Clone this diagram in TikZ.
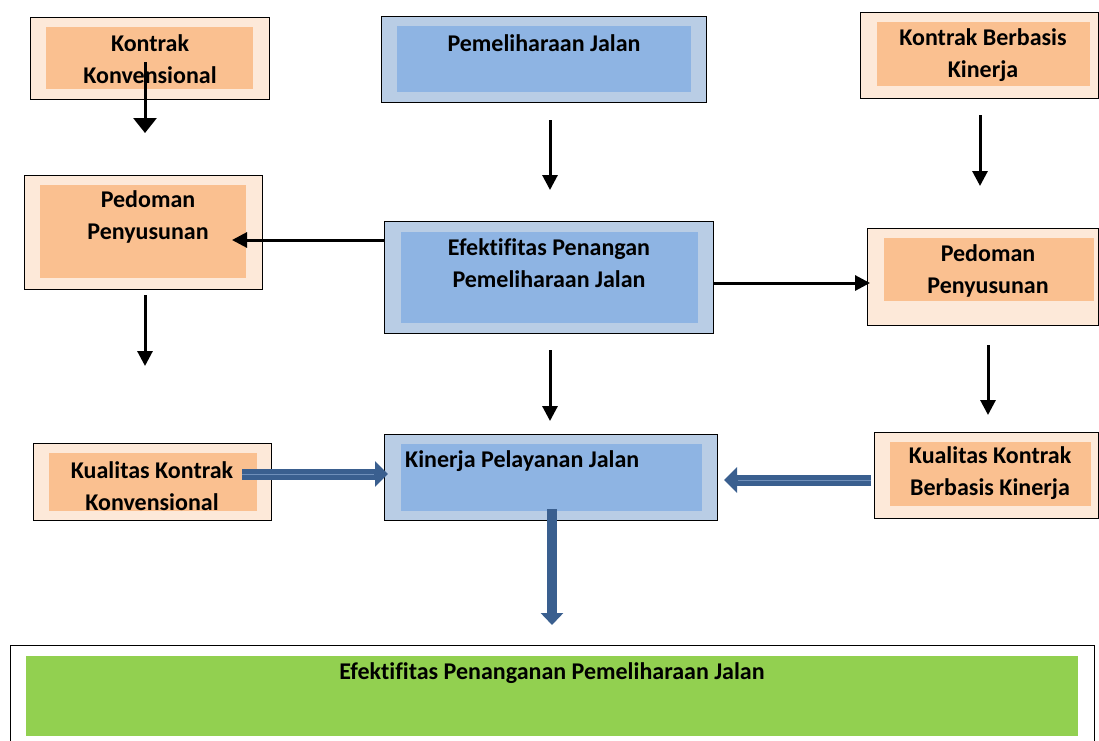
\documentclass[tikz,border=0pt]{standalone}
\usepackage{fontspec}
\setmainfont[Ligatures=NoCommon]{Carlito}
\usetikzlibrary{arrows.meta, positioning, calc}
\definecolor{peachlight}{HTML}{FDE9D9}
\definecolor{peach}{HTML}{FAC090}
\definecolor{bluelight}{HTML}{B9CDE5}
\definecolor{bluemid}{HTML}{8EB4E3}
\definecolor{arrowblue}{HTML}{3A5F8F}
\definecolor{arrowline}{HTML}{6F8FBA}
\definecolor{greenbox}{HTML}{92D050}
\newcommand{\boxfont}{\fontsize{24}{32}\selectfont\bfseries}

\begin{document}
\begin{tikzpicture}[x=1pt, y=-1pt,
    outerpeach/.style={draw=black, line width=1pt, fill=peachlight, inner sep=0pt},
    innerpeach/.style={fill=peach, inner sep=0pt},
    outerblue/.style={draw=black, line width=1pt, fill=bluelight, inner sep=0pt},
    innerblue/.style={fill=bluemid, inner sep=0pt},
    boxtext/.style={font=\boxfont, align=center, inner sep=0pt},
    thinarrow/.style={-{Triangle[width=15pt,length=15pt]}, line width=3pt, black},
    blockarrow/.style={-{Triangle[width=25pt,length=13pt]}, line width=11pt, arrowblue},
    blockline/.style={line width=1pt, arrowline}]
    \useasboundingbox (0,0) rectangle (1099,740);

    % Top row
    \node[outerpeach, minimum width=239, minimum height=82] (kkO) at (149.5,58) {};
    \node[innerpeach, minimum width=207, minimum height=62] (kkI) at (149.5,58) {};
    \node[boxtext] (kk) at (150,59) {Kontrak\\Konvensional};

    \node[outerblue, minimum width=325, minimum height=86] (pjO) at (543.5,59) {};
    \node[innerblue, minimum width=294, minimum height=66] (pjI) at (544,59) {};
    \node[boxtext] (pj) at (544,43) {Pemeliharaan Jalan};

    \node[outerpeach, minimum width=238, minimum height=86] (kbO) at (979,55) {};
    \node[innerpeach, minimum width=213, minimum height=64] (kbI) at (983.5,54) {};
    \node[boxtext] (kb) at (983,55) {Kontrak Berbasis\\Kinerja};

    % Middle row
    \node[outerpeach, minimum width=238, minimum height=114] (plO) at (143,232) {};
    \node[innerpeach, minimum width=206, minimum height=93] (plI) at (143,231.5) {};
    \node[boxtext] (pl) at (148,217) {Pedoman\\Penyusunan};

    \node[outerblue, minimum width=329, minimum height=112] (epO) at (548.5,277) {};
    \node[innerblue, minimum width=297, minimum height=91] (epI) at (549.5,277.5) {};
    \node[boxtext] (ep) at (549,263) {Efektifitas Penangan\\Pemeliharaan Jalan};

    \node[outerpeach, minimum width=231, minimum height=97] (prO) at (982.5,276.5) {};
    \node[innerpeach, minimum width=210, minimum height=63] (prI) at (989,269.5) {};
    \node[boxtext] (pr) at (988,271) {Pedoman\\Penyusunan};

    % Bottom row
    \node[outerpeach, minimum width=238, minimum height=77] (qkO) at (152,481.5) {};
    \node[innerpeach, minimum width=208, minimum height=58] (qkI) at (153,482) {};
    \node[boxtext] (qk) at (152,486) {Kualitas Kontrak\\Konvensional};

    \node[outerblue, minimum width=333, minimum height=86] (kpO) at (550.5,477) {};
    \node[innerblue, minimum width=301, minimum height=67] (kpI) at (551.5,477.5) {};
    \node[boxtext, anchor=west] (kp) at (405,461) {Kinerja Pelayanan Jalan};

    \node[outerpeach, minimum width=224, minimum height=86] (qbO) at (986,475) {};
    \node[innerpeach, minimum width=201, minimum height=64] (qbI) at (990.5,474) {};
    \node[boxtext] (qb) at (990,473.5) {Kualitas Kontrak\\Berbasis Kinerja};

    % Result
    \node[outerblue, fill=white, minimum width=1084, minimum height=110] (efO) at (552,700) {};
    \node[fill=greenbox, inner sep=0pt, minimum width=1052, minimum height=80] (efI) at (552,696) {};
    \node[boxtext] (ef) at (552,673) {Efektifitas Penanganan Pemeliharaan Jalan};

    % Thin arrows
    \coordinate (a1) at (145,62);   \coordinate (b1) at (145,133);
    \coordinate (a2) at (550,120);  \coordinate (b2) at (550,190);
    \coordinate (a3) at (980,115);  \coordinate (b3) at (980,186);
    \coordinate (a4) at (145,295);  \coordinate (b4) at (145,366);
    \coordinate (a5) at (550,350);  \coordinate (b5) at (550,421);
    \coordinate (a6) at (988,345);  \coordinate (b6) at (988,415);
    \coordinate (b7) at (232,240);
    \coordinate (b8) at (870,283);
    \draw[thinarrow, -{Triangle[width=23pt,length=15pt]}] (a1) -- (b1);
    \draw[thinarrow] (a2) -- (b2);
    \draw[thinarrow] (a3) -- (b3);
    \draw[thinarrow] (a4) -- (b4);
    \draw[thinarrow] (a5) -- (b5);
    \draw[thinarrow] (a6) -- (b6);
    \draw[thinarrow] (epO.west |- b7) -- (b7);
    \draw[thinarrow] (epO.east |- b8) -- (b8);

    % Block arrows
    \coordinate (c1) at (242,474);  \coordinate (d1) at (388,474);
    \coordinate (c2) at (871,480);  \coordinate (d2) at (724,480);
    \coordinate (c3) at (552,509);  \coordinate (d3) at (552,625);
    \draw[blockarrow] (c1) -- (d1);
    \draw[blockline] (c1) -- ($(d1)+(-14,0)$);
    \draw[blockarrow] (c2) -- (d2);
    \draw[blockline] (c2) -- ($(d2)+(14,0)$);
    \draw[blockarrow, line width=10pt, -{Triangle[width=22pt,length=12pt]}] (c3) -- (d3);
\end{tikzpicture}
\end{document}
